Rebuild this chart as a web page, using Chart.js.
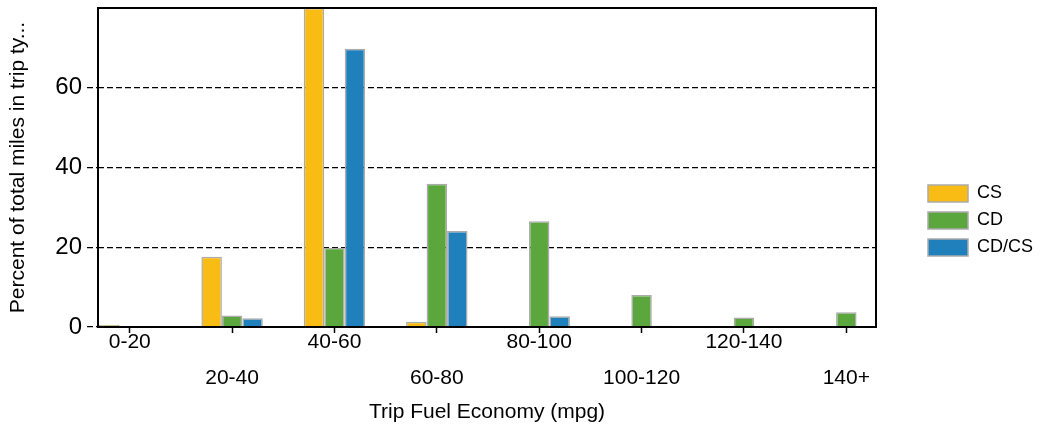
<!DOCTYPE html>
<html>
<head>
<meta charset="utf-8">
<script src="https://cdn.jsdelivr.net/npm/chart.js@4"></script>
<style>
  html, body { margin: 0; padding: 0; background: #fff; }
  #wrap { width: 1043px; height: 427px; }
</style>
</head>
<body>
<div id="wrap"><canvas id="fuelChart"></canvas></div>
<script>
// categories and values
const categories = ['0-20', '20-40', '40-60', '60-80', '80-100', '100-120', '120-140', '140+'];
const cs   = [0.5, 17.6, 80, 1.3, 0, 0, 0, 0];
const cd   = [0.1, 2.9, 19.9, 35.9, 26.5, 8.0, 2.4, 3.7];
const cdcs = [0, 2.2, 69.8, 24.1, 2.7, 0.3, 0, 0];
const yTicks = [0, 20, 40, 60];

const FONT = 'Liberation Sans, Arial, sans-serif';

function toPoints(arr) {
  return arr.map((v, i) => ({ x: i, y: v }));
}

// frame round the plot area
const framePlugin = {
  id: 'frame',
  afterDraw(chart) {
    const { ctx, chartArea: a } = chart;
    ctx.save();
    ctx.strokeStyle = '#000';
    ctx.lineWidth = 2;
    ctx.strokeRect(a.left, a.top, a.right - a.left, a.bottom - a.top);
    ctx.restore();
  }
};

// vertical axes: no extra room above/below for labels
function noVPad(scale) {
  scale.paddingTop = 0;
  scale.paddingBottom = 0;
}

const ctx = document.getElementById('fuelChart').getContext('2d');

new Chart(ctx, {
  type: 'bar',
  data: {
    datasets: [
      {
        label: 'CS',
        data: toPoints(cs),
        backgroundColor: '#F9BC15',
        borderColor: '#ababab',
        borderWidth: 1.5
      },
      {
        label: 'CD',
        data: toPoints(cd),
        backgroundColor: '#5CA73D',
        borderColor: '#ababab',
        borderWidth: 1.5
      },
      {
        label: 'CD/CS',
        data: toPoints(cdcs),
        backgroundColor: '#1F80BC',
        borderColor: '#ababab',
        borderWidth: 1.5
      }
    ]
  },
  options: {
    responsive: true,
    maintainAspectRatio: false,
    animation: false,
    layout: {
      padding: { top: 8, bottom: 0, left: 0, right: 0 }
    },
    datasets: {
      bar: {
        categoryPercentage: 0.6,
        barPercentage: 1.0
      }
    },
    scales: {
      x: {
        type: 'linear',
        min: -0.31,
        max: 7.29,
        offset: false,
        afterBuildTicks: (scale) => {
          scale.ticks = categories.map((c, i) => ({ value: i }));
        },
        afterFit: (scale) => {
          scale.height = 100;
          scale.paddingLeft = 0;
          scale.paddingRight = 0;
        },
        ticks: {
          autoSkip: false,
          maxRotation: 0,
          padding: -9,
          color: '#000',
          font: { family: FONT, size: 21, lineHeight: '36px' },
          callback: (v) => {
            const label = categories[v];
            return v % 2 === 1 ? ['', label] : label;
          }
        },
        grid: {
          offset: false,
          drawOnChartArea: false,
          color: '#000',
          tickLength: 6,
          tickWidth: 1.5
        },
        border: { display: false },
        title: {
          display: true,
          text: 'Trip Fuel Economy (mpg)',
          color: '#000',
          font: { family: FONT, size: 21 },
          padding: { top: 0, bottom: 2 }
        }
      },
      y: {
        min: 0,
        max: 80,
        afterBuildTicks: (scale) => {
          scale.ticks = yTicks.map(v => ({ value: v }));
        },
        afterFit: (scale) => {
          scale.width = 98;
          noVPad(scale);
        },
        ticks: {
          padding: 5,
          color: '#000',
          font: { family: FONT, size: 24 }
        },
        grid: {
          color: '#000',
          lineWidth: 1.2,
          tickLength: 11,
          tickColor: '#000',
          tickBorderDash: [6, 3],
          tickWidth: 1.2
        },
        border: { display: false, dash: [6, 3] },
        title: {
          display: true,
          text: 'Percent of total miles in trip ty...',
          color: '#000',
          font: { family: FONT, size: 21 },
          padding: { top: 6, bottom: 0 }
        }
      },
      // empty axis only to keep a gap before the legend
      gap: {
        position: 'right',
        display: true,
        afterFit: (scale) => {
          scale.width = 43;
          noVPad(scale);
        },
        ticks: { display: false },
        grid: { display: false, drawOnChartArea: false },
        border: { display: false }
      }
    },
    plugins: {
      legend: {
        position: 'right',
        title: {
          // blank title, nudges the items down a little
          display: true,
          text: '',
          padding: 0,
          font: { size: 5 }
        },
        labels: {
          boxWidth: 40,
          boxHeight: 17,
          padding: 9,
          color: '#000',
          font: { family: FONT, size: 18 }
        }
      },
      tooltip: { enabled: false }
    }
  },
  plugins: [framePlugin]
});
</script>
</body>
</html>
